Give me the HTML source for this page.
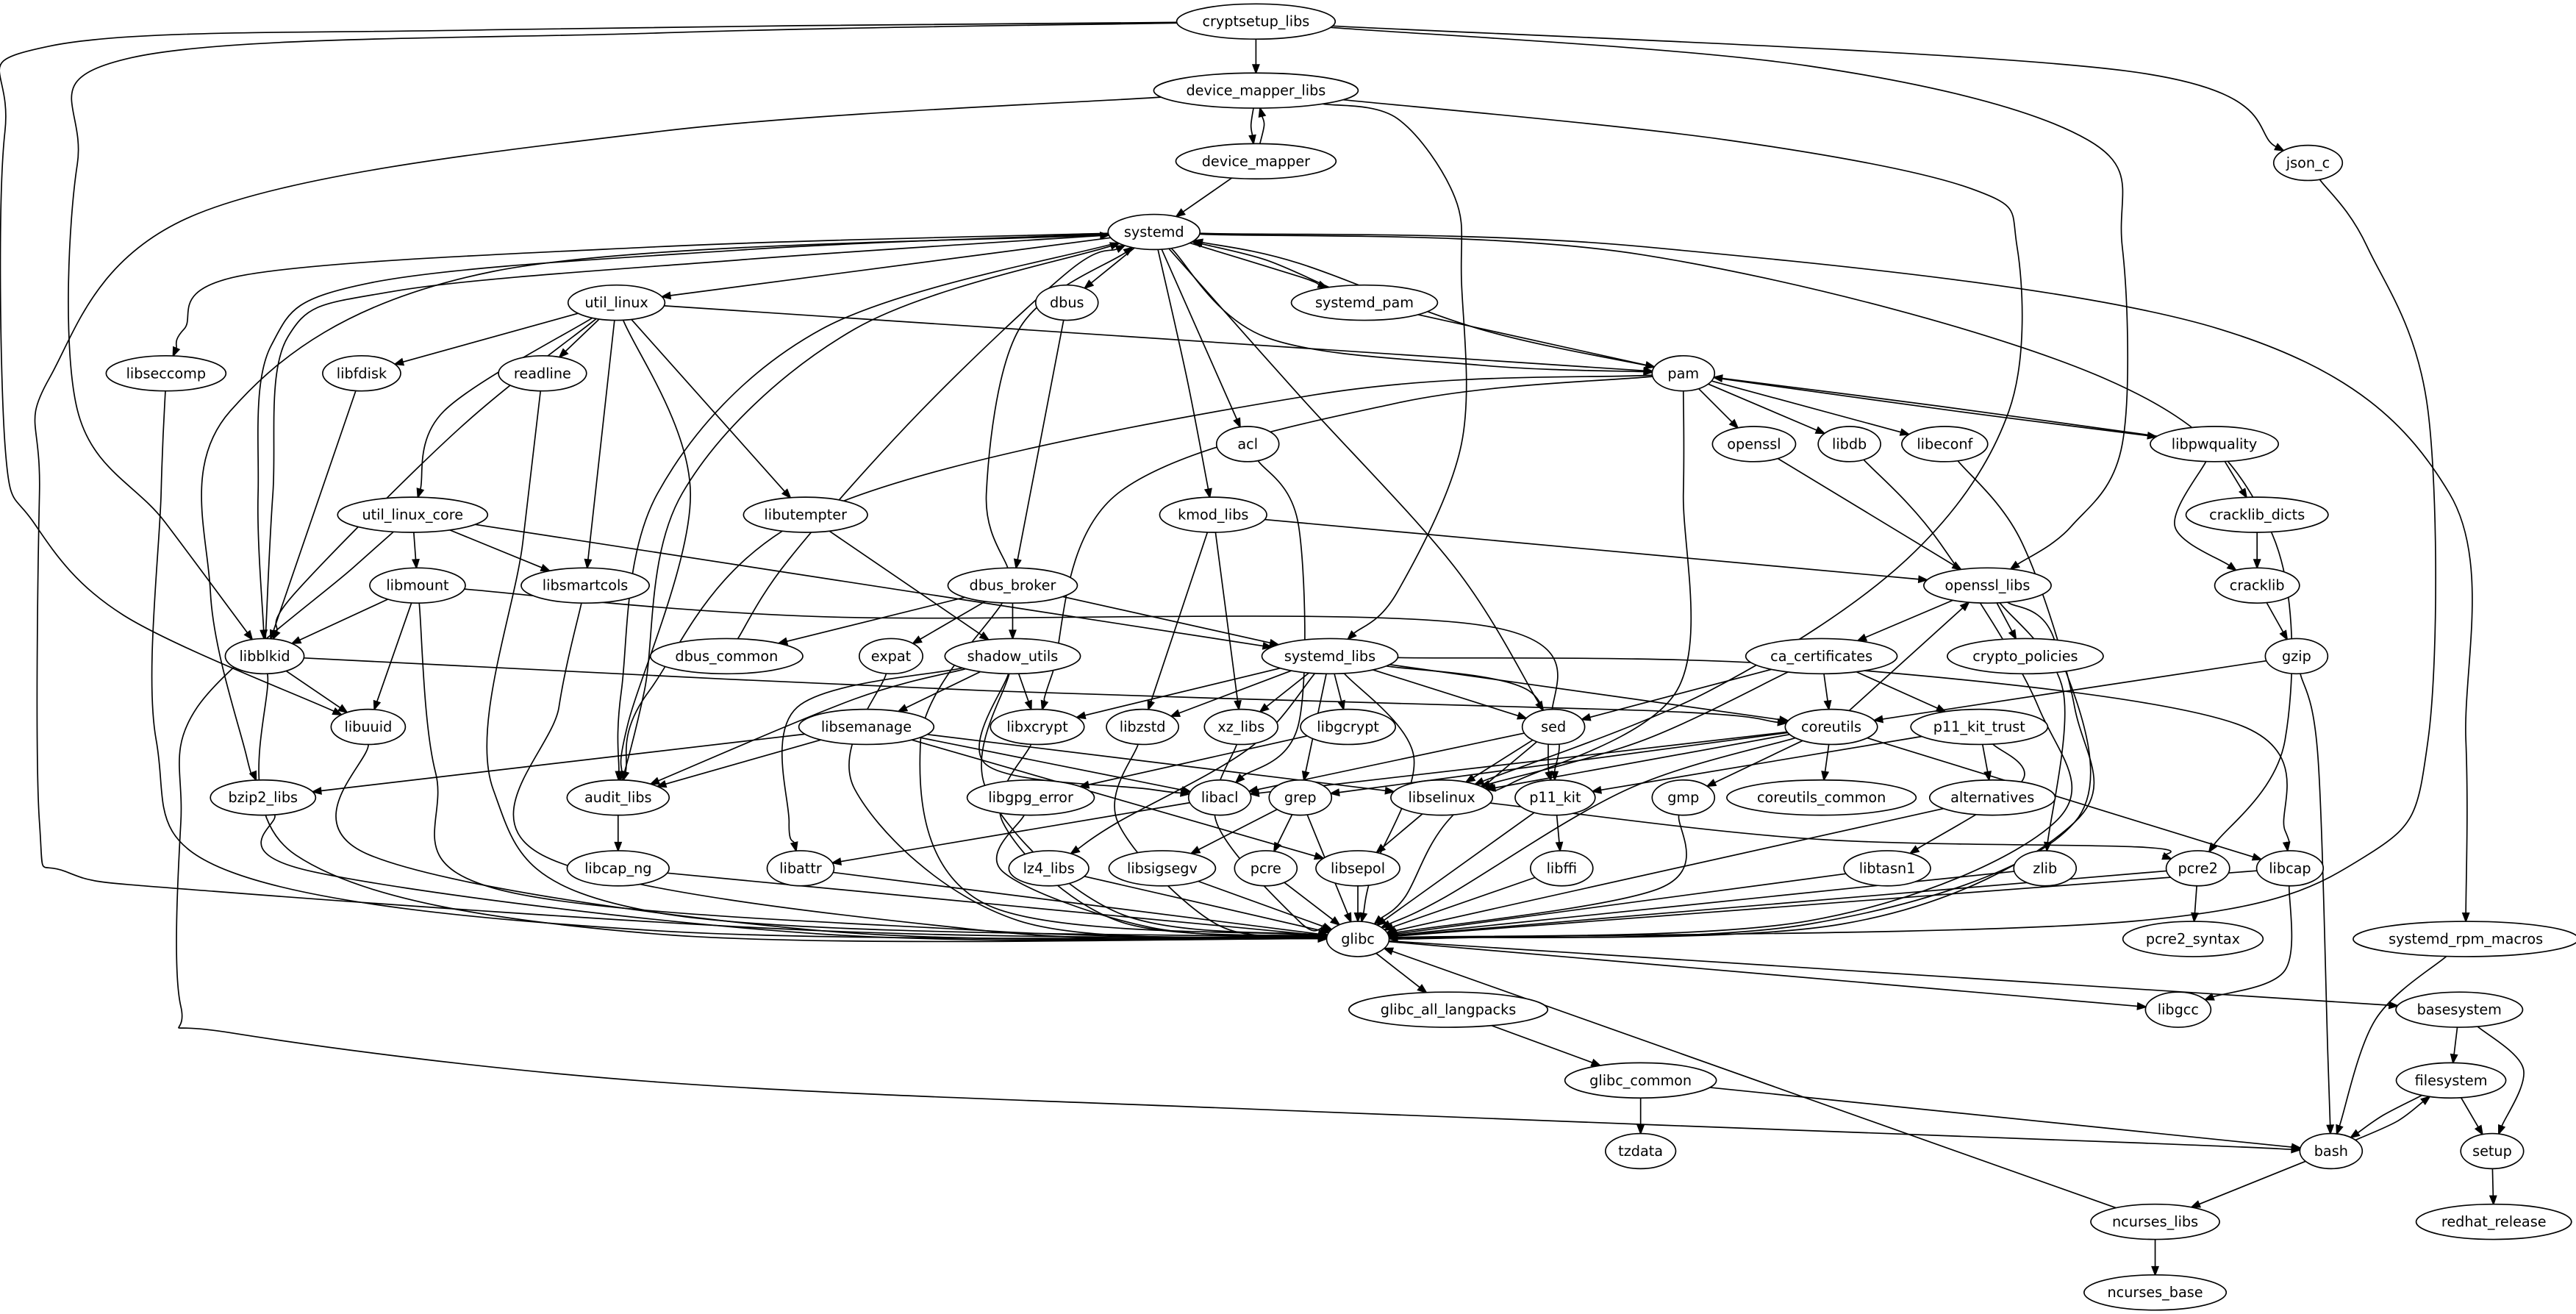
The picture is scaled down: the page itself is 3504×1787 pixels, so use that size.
<!DOCTYPE html>
<html><head><meta charset="utf-8"><style>
html,body{margin:0;padding:0;background:#fff;}
svg{display:block;}
text{font-family:"DejaVu Sans","Liberation Sans",sans-serif;font-size:8.6px;text-anchor:middle;dominant-baseline:central;fill:#000;}
</style></head><body>
<svg id="g" width="3504" height="1787" viewBox="0 0 1567 799" xmlns="http://www.w3.org/2000/svg">
<g id="edges" fill="none" stroke="#000" stroke-width="0.75"></g>
<g id="heads" fill="#000" stroke="#000" stroke-width="0.75"></g>
<g id="ells" fill="#fff" stroke="#000" stroke-width="0.75"></g>
<g id="labels">
<text x="764" y="13">cryptsetup_libs</text>
<text x="764" y="55">device_mapper_libs</text>
<text x="764" y="98">device_mapper</text>
<text x="702" y="141">systemd</text>
<text x="1404" y="99">json_c</text>
<text x="375" y="184">util_linux</text>
<text x="830" y="184">systemd_pam</text>
<text x="649" y="184">dbus</text>
<text x="101" y="227">libseccomp</text>
<text x="220" y="227">libfdisk</text>
<text x="330" y="227">readline</text>
<text x="1024" y="227">pam</text>
<text x="759" y="270">acl</text>
<text x="1067" y="270">openssl</text>
<text x="1125" y="270">libdb</text>
<text x="1183" y="270">libeconf</text>
<text x="1347" y="270">libpwquality</text>
<text x="251" y="313">util_linux_core</text>
<text x="490" y="313">libutempter</text>
<text x="738" y="313">kmod_libs</text>
<text x="1373" y="313">cracklib_dicts</text>
<text x="254" y="356">libmount</text>
<text x="356" y="356">libsmartcols</text>
<text x="616" y="356">dbus_broker</text>
<text x="1209" y="356">openssl_libs</text>
<text x="1373" y="356">cracklib</text>
<text x="161" y="399">libblkid</text>
<text x="442" y="399">dbus_common</text>
<text x="542" y="399">expat</text>
<text x="616" y="399">shadow_utils</text>
<text x="809" y="399">systemd_libs</text>
<text x="1108" y="399">ca_certificates</text>
<text x="1232" y="399">crypto_policies</text>
<text x="1397" y="399">gzip</text>
<text x="224" y="442">libuuid</text>
<text x="527" y="442">libsemanage</text>
<text x="631" y="442">libxcrypt</text>
<text x="695" y="442">libzstd</text>
<text x="755" y="442">xz_libs</text>
<text x="820" y="442">libgcrypt</text>
<text x="945" y="442">sed</text>
<text x="1114" y="442">coreutils</text>
<text x="1204" y="442">p11_kit_trust</text>
<text x="160" y="485">bzip2_libs</text>
<text x="376" y="485">audit_libs</text>
<text x="627" y="485">libgpg_error</text>
<text x="742" y="485">libacl</text>
<text x="791" y="485">grep</text>
<text x="877" y="485">libselinux</text>
<text x="946" y="485">p11_kit</text>
<text x="1024" y="485">gmp</text>
<text x="1108" y="485">coreutils_common</text>
<text x="1212" y="485">alternatives</text>
<text x="376" y="528">libcap_ng</text>
<text x="487" y="528">libattr</text>
<text x="638" y="528">lz4_libs</text>
<text x="707" y="528">libsigsegv</text>
<text x="770" y="528">pcre</text>
<text x="826" y="528">libsepol</text>
<text x="950" y="528">libffi</text>
<text x="1148" y="528">libtasn1</text>
<text x="1244" y="528">zlib</text>
<text x="1337" y="528">pcre2</text>
<text x="1393" y="528">libcap</text>
<text x="826" y="571">glibc</text>
<text x="1334" y="571">pcre2_syntax</text>
<text x="1500" y="571">systemd_rpm_macros</text>
<text x="881" y="614">glibc_all_langpacks</text>
<text x="1325" y="614">libgcc</text>
<text x="1496" y="614">basesystem</text>
<text x="998" y="657">glibc_common</text>
<text x="1491" y="657">filesystem</text>
<text x="998" y="700">tzdata</text>
<text x="1418" y="700">bash</text>
<text x="1516" y="700">setup</text>
<text x="1311" y="743">ncurses_libs</text>
<text x="1517" y="743">redhat_release</text>
<text x="1311" y="786">ncurses_base</text>
</g>
</svg>
<script>
(function(){
var NS="http://www.w3.org/2000/svg";
var N={};
var ells=document.getElementById("ells");
var texts=document.querySelectorAll("#labels text");
for(var i=0;i<texts.length;i++){
 var t=texts[i];var w=t.getComputedTextLength();
 var rx=Math.max(19,(w/2+1.5)*1.414);
 var x=+t.getAttribute("x"),y=+t.getAttribute("y");
 N[t.textContent]={x:x,y:y,rx:rx,ry:10.7};
 var e=document.createElementNS(NS,"ellipse");
 e.setAttribute("cx",x);e.setAttribute("cy",y);e.setAttribute("rx",rx);e.setAttribute("ry",10.7);
 ells.appendChild(e);
}
function bp(n,tx,ty){var dx=tx-n.x,dy=ty-n.y;var k=1/Math.sqrt(dx*dx/(n.rx*n.rx)+dy*dy/(n.ry*n.ry));return [n.x+dx*k,n.y+dy*k];}
var E=[
["cryptsetup_libs","device_mapper_libs"],["cryptsetup_libs","json_c",[[1293,43]]],
["cryptsetup_libs","openssl_libs",[[1100,40],[1270,85],[1291,150],[1291,270],[1260,320]]],
["cryptsetup_libs","libblkid",[[400,20],[80,35],[47,100],[47,249],[100,317]]],
["cryptsetup_libs","libuuid",[[300,18],[30,28],[3,80],[3,270],[20,317],[75,374]]],
["device_mapper_libs","device_mapper",[[761,76]]],["device_mapper","device_mapper_libs",[[769,76]]],
["device_mapper_libs","glibc",[[400,80],[120,130],[30,230],[24,300],[24,500],[40,530],[130,542],[500,566]]],
["device_mapper_libs","systemd_libs",[[850,72],[885,120],[889,170],[889,270],[850,360]]],
["device_mapper_libs","libselinux",[[1050,85],[1200,115],[1227,150],[1222,250],[1160,340],[1040,420]]],
["device_mapper","systemd"],
["json_c","glibc",[[1440,150],[1477,250],[1477,450],[1440,520],[1300,560],[900,570]]],
["systemd","util_linux"],["systemd","systemd_pam",[[790,168]]],["systemd_pam","systemd",[[770,158]]],
["systemd","dbus"],["systemd","libseccomp",[[400,150],[150,167],[112,200]]],
["systemd","libblkid",[[450,152],[225,172],[165,210],[157,300]]],
["libblkid","systemd",[[166,300],[175,205],[240,177],[450,158]]],
["systemd","bzip2_libs",[[300,165],[140,250],[128,360],[150,460]]],
["systemd","audit_libs",[[500,200],[400,300],[378,420]]],
["audit_libs","systemd",[[392,420],[415,300],[520,200]]],
["systemd","pam",[[770,205],[900,222]]],["pam","systemd",[[900,200],[790,160]]],
["systemd","acl"],["systemd","kmod_libs",[[722,230]]],["systemd","sed",[[790,240],[885,345]]],
["systemd","pcre2",[[1000,155],[1280,230],[1380,320],[1390,450]]],
["systemd","systemd_rpm_macros",[[1000,150],[1350,200],[1490,300],[1500,450]]],
["systemd_pam","pam"],["dbus_broker","systemd",[[600,300],[620,200]]],["dbus_common","systemd",[[480,340],[560,250],[650,165]]],
["util_linux","libfdisk"],["util_linux","readline"],["util_linux","util_linux_core",[[270,250]]],
["util_linux","libsmartcols"],["util_linux","libutempter"],["util_linux","libblkid",[[280,260],[180,360]]],
["util_linux","audit_libs",[[420,300],[382,440]]],["util_linux","pam"],
["pam","openssl"],["pam","libdb"],["pam","libeconf"],["pam","libpwquality",[[1190,250]]],["libpwquality","pam",[[1180,247]]],
["pam","audit_libs",[[800,240],[500,310],[395,420]]],["pam","libxcrypt",[[850,245],[680,300],[640,410]]],
["pam","libselinux",[[1024,300],[1020,420],[920,476]]],
["libpwquality","cracklib_dicts"],["libpwquality","cracklib",[[1323,320]]],["cracklib_dicts","cracklib"],
["cracklib","gzip"],["gzip","coreutils"],["gzip","bash",[[1410,460],[1416,640]]],
["openssl","openssl_libs"],["libdb","glibc",[[1180,330],[1240,430],[1250,500],[1100,560]]],
["libeconf","glibc",[[1230,330],[1262,430],[1262,500],[1120,562]]],
["acl","libacl",[[790,320],[790,440]]],["dbus","dbus_broker"],
["kmod_libs","openssl_libs"],["kmod_libs","libzstd"],["kmod_libs","xz_libs"],
["libseccomp","glibc",[[98,300],[95,450],[140,530],[400,566]]],["libfdisk","libblkid"],
["readline","glibc",[[318,330],[300,480],[400,555]]],
["libutempter","shadow_utils"],
["util_linux_core","libmount"],["util_linux_core","libsmartcols"],["util_linux_core","systemd_libs"],
["util_linux_core","bash",[[215,345],[120,430],[110,500],[110,612],[140,628],[400,658],[800,676],[1300,695]]],
["libmount","libblkid"],["libmount","libuuid"],["libmount","glibc",[[265,470],[300,540],[600,566]]],
["libmount","p11_kit",[[500,375],[900,380],[945,440]]],
["libsmartcols","glibc",[[340,430],[330,520],[600,566]]],
["dbus_broker","dbus_common"],["dbus_broker","expat"],["dbus_broker","shadow_utils"],["dbus_broker","systemd_libs"],
["dbus_broker","glibc",[[560,450],[600,550]]],
["openssl_libs","ca_certificates"],["openssl_libs","crypto_policies"],["openssl_libs","zlib",[[1255,420]]],
["openssl_libs","glibc",[[1250,390],[1262,500],[1100,562]]],
["libblkid","libuuid"],["libblkid","glibc",[[180,520],[400,568]]],["libblkid","coreutils",[[600,420],[1000,432]]],
["expat","glibc",[[520,480],[620,560]]],["shadow_utils","libsemanage"],["shadow_utils","libxcrypt"],
["shadow_utils","audit_libs",[[520,425]]],["shadow_utils","libattr",[[485,430],[480,500]]],["shadow_utils","glibc",[[600,480],[680,555]]],
["shadow_utils","libacl",[[600,465],[700,480]]],
["systemd_libs","libxcrypt"],["systemd_libs","libzstd"],["systemd_libs","xz_libs"],["systemd_libs","libgcrypt"],
["systemd_libs","sed"],["systemd_libs","coreutils"],["systemd_libs","libcap",[[1100,405],[1360,440],[1390,505]]],
["systemd_libs","lz4_libs",[[760,455],[680,500]]],["systemd_libs","glibc",[[860,460],[835,530]]],["systemd_libs","p11_kit",[[930,420]]],
["systemd_libs","grep"],
["ca_certificates","sed"],["ca_certificates","coreutils"],["ca_certificates","p11_kit_trust"],["ca_certificates","libselinux",[[1000,450]]],
["libuuid","glibc",[[225,520],[500,566]]],["libxcrypt","glibc",[[610,500],[680,560]]],["libzstd","glibc",[[680,500],[740,562]]],
["xz_libs","glibc",[[740,500],[790,560]]],["libgcrypt","libgpg_error"],["sed","libselinux"],["sed","libacl"],["sed","glibc",[[880,500],[855,545]]],
["coreutils","openssl_libs"],["coreutils","grep"],["coreutils","libacl"],["coreutils","libselinux"],["coreutils","gmp"],
["coreutils","coreutils_common"],["coreutils","libcap"],["coreutils","glibc",[[990,480],[880,545]]],
["p11_kit_trust","alternatives"],["p11_kit_trust","p11_kit"],["p11_kit_trust","libtasn1",[[1230,475]]],
["libsemanage","bzip2_libs"],["libsemanage","audit_libs"],["libsemanage","libselinux"],["libsemanage","libsepol"],
["libsemanage","libacl"],
["bzip2_libs","glibc",[[190,530],[500,568]]],["audit_libs","libcap_ng"],["libgpg_error","glibc",[[610,530],[700,564]]],
["libacl","libattr"],["grep","libsigsegv"],["grep","pcre"],["grep","glibc"],["libselinux","libsepol"],["libselinux","pcre2",[[1100,510],[1300,515]]],
["p11_kit","libffi"],["p11_kit","glibc"],["gmp","glibc",[[1010,540]]],["alternatives","glibc"],
["libcap_ng","glibc"],["libattr","glibc"],["lz4_libs","glibc"],["libsigsegv","glibc"],["pcre","glibc"],["libsepol","glibc"],
["libffi","glibc"],["libtasn1","glibc"],["zlib","glibc"],["pcre2","glibc"],["libcap","glibc"],
["pcre2","pcre2_syntax"],["libcap","libgcc",[[1390,590]]],
["glibc","glibc_all_langpacks"],["glibc","libgcc"],["glibc","basesystem"],["glibc_all_langpacks","glibc_common"],
["glibc_common","tzdata"],["glibc_common","bash"],["systemd_rpm_macros","bash",[[1445,620]]],
["basesystem","filesystem"],["basesystem","setup",[[1535,650]]],["filesystem","bash",[[1450,678]]],
["bash","filesystem",[[1458,682]]],["filesystem","setup"],["setup","redhat_release"],["bash","ncurses_libs"],
["ncurses_libs","ncurses_base"],["ncurses_libs","glibc"]
];
var eg=document.getElementById("edges"),hg=document.getElementById("heads");
function f(v){return v.toFixed(1);}
E.forEach(function(d){
 var a=N[d[0]],b=N[d[1]];if(!a||!b)return;
 var w=d[2]||[];
 var first=w.length?w[0]:[b.x,b.y];
 var last=w.length?w[w.length-1]:[a.x,a.y];
 var s=bp(a,first[0],first[1]);
 var t=bp(b,last[0],last[1]);
 var dx=t[0]-last[0],dy=t[1]-last[1],L=Math.sqrt(dx*dx+dy*dy)||1;dx/=L;dy/=L;
 var al=5,aw=1.9;
 var bx=t[0]-dx*al,by=t[1]-dy*al;
 var P=[s].concat(w).concat([[bx,by]]);
 var dd="M"+f(P[0][0])+","+f(P[0][1]);
 if(P.length==2){dd+=" L"+f(bx)+","+f(by);}
 else{
  for(var i=0;i<P.length-1;i++){
   var p0=P[Math.max(0,i-1)],p1=P[i],p2=P[i+1],p3=P[Math.min(P.length-1,i+2)];
   var c1=[p1[0]+(p2[0]-p0[0])/6,p1[1]+(p2[1]-p0[1])/6];
   var c2=[p2[0]-(p3[0]-p1[0])/6,p2[1]-(p3[1]-p1[1])/6];
   dd+=" C"+f(c1[0])+","+f(c1[1])+" "+f(c2[0])+","+f(c2[1])+" "+f(p2[0])+","+f(p2[1]);
  }
 }
 var p=document.createElementNS(NS,"path");
 p.setAttribute("d",dd);eg.appendChild(p);
 var h=document.createElementNS(NS,"polygon");
 h.setAttribute("points",f(t[0])+","+f(t[1])+" "+f(bx-dy*aw)+","+f(by+dx*aw)+" "+f(bx+dy*aw)+","+f(by-dx*aw));
 hg.appendChild(h);
});
})();
</script>
</body></html>
